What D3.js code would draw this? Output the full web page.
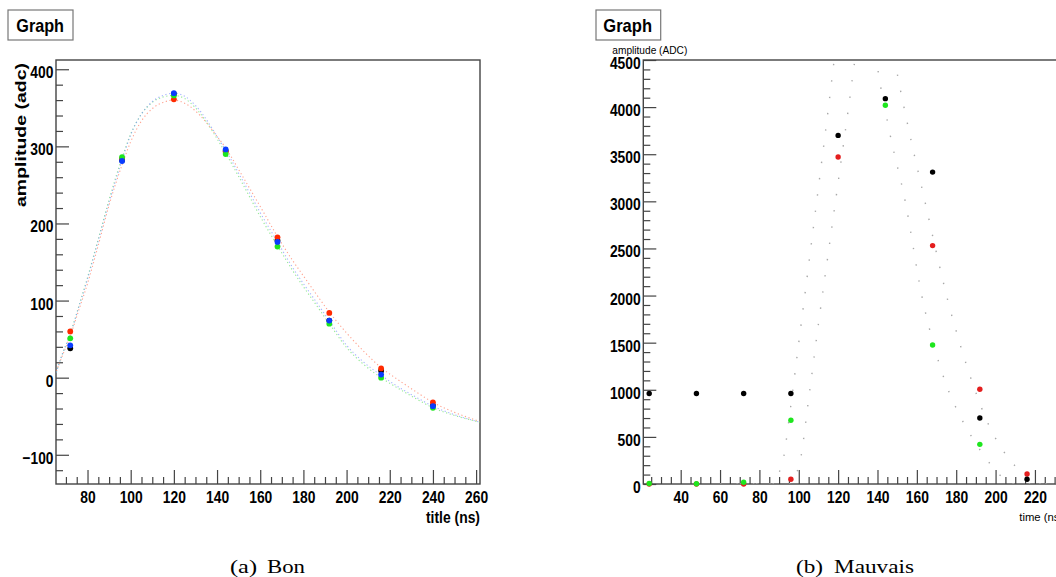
<!DOCTYPE html>
<html>
<head>
<meta charset="utf-8">
<script src="https://cdn.jsdelivr.net/npm/d3@7"></script>
<style>
  html, body { margin: 0; padding: 0; background: #fff; }
  svg { display: block; }
</style>
</head>
<body>
<svg id="chart" width="1056" height="577"></svg>
<script>
// ---------------- DATA ----------------
// Left panel (a) Bon
const leftTimes = [72, 96, 120, 144, 168, 192, 216, 240];
const leftBlack = [38, 282, 368, 294, 178, 74, 9, -36];
const leftRed   = [60, 284, 361, 293, 182, 84, 12, -32];
const leftGreen = [51, 286, 366, 290, 170, 70, 0, -39];
const leftBlue  = [42, 281, 369, 296, 176, 74, 4, -37];

const leftFitTimes = [65, 68, 72, 76, 80, 85, 90, 96, 100, 105, 110, 115, 120, 125, 130, 135, 140, 144, 150, 155, 160, 168, 175, 180, 185, 192, 200, 208, 216, 224, 232, 240, 250, 262];
const leftFitBlue  = [2, 28, 56, 92, 128, 178, 228, 282, 315, 342, 358, 366, 369, 365, 353, 335, 313, 295, 265, 240, 214, 176, 143, 122, 102, 74, 42, 20, 3, -12, -25, -37, -48, -58];
const leftFitGreen = [2, 28, 57, 93, 130, 180, 231, 285, 316, 342, 357, 364, 366, 362, 350, 332, 310, 291, 261, 235, 209, 171, 139, 118, 98, 70, 39, 17, 0, -14, -27, -39, -49, -58];
const leftFitRed   = [4, 26, 54, 88, 122, 172, 224, 276, 306, 333, 349, 357, 360, 356, 346, 331, 313, 298, 270, 246, 222, 183, 152, 132, 112, 85, 58, 34, 13, -3, -18, -32, -45, -57];

const leftXTicks = [80, 100, 120, 140, 160, 180, 200, 220, 240, 260];
const leftYTicks = [-100, 0, 100, 200, 300, 400];

// Right panel (b) Mauvais
const rightTimes = [24, 48, 72, 96, 120, 144, 168, 192, 216];
const rightBlack = [960, 960, 960, 960, 3700, 4090, 3310, 700, 50];
const rightRed   = [0, 0, 0, 50, 3470, null, 2530, 1005, 106];
const rightGreen = [5, 3, 18, 676, null, 4020, 1475, 421, null];

const rightFitGreenTimes = [60, 85, 88, 92, 95.5, 100, 105, 110, 115, 118, 122, 129, 136, 139.5, 146, 154, 163, 168.6, 175, 182, 190, 197, 204, 208, 230];
const rightFitGreen      = [0, 0, 60, 250, 760, 1500, 2320, 3150, 3980, 4500, 5100, 5500, 5100, 4500, 3750, 3010, 1950, 1475, 1050, 720, 430, 220, 60, 0, 0];
const rightFitRedTimes   = [70, 96, 98, 100.6, 105, 110, 115, 120, 125, 128.5, 132, 139, 145, 148.8, 156, 164, 170, 175.7, 182, 189.4, 196, 203, 210, 216, 221, 240];
const rightFitRed        = [0, 0, 80, 233, 900, 1700, 2450, 3200, 3950, 4500, 5000, 5400, 5000, 4500, 3750, 3010, 2450, 1950, 1480, 1005, 650, 380, 190, 60, 0, 0];

const rightXTicks = [40, 60, 80, 100, 120, 140, 160, 180, 200, 220];
const rightYTicks = [0, 500, 1000, 1500, 2000, 2500, 3000, 3500, 4000, 4500];

const captions = ["(a)", "Bon", "(b)", "Mauvais"];

// ---------------- DRAW ----------------
const svg = d3.select("#chart");
const FONT = "'Liberation Sans', Arial, Helvetica, sans-serif";
const SERIF = "'Liberation Serif', 'Times New Roman', serif";
const frameColor = "#444";

function graphBox(x, y, w, h, tx, tw) {
  svg.append("rect").attr("x", x).attr("y", y).attr("width", w).attr("height", h)
    .attr("fill", "#fff").attr("stroke", "#777").attr("stroke-width", 1.2);
  svg.append("text").attr("x", tx).attr("y", y + 22)
    .attr("font-family", FONT).attr("font-weight", "bold").attr("font-size", 18.5)
    .attr("textLength", tw).attr("lengthAdjust", "spacingAndGlyphs")
    .text("Graph");
}

// condensed bold tick labels (ROOT style)
function labelWidth(s) {
  let w = 0;
  for (const c of s) w += (c === "-") ? 4.4 : 7.7;
  return w;
}

function styleAxis(g) {
  g.select(".domain").remove();
  g.selectAll(".tick line").attr("stroke", frameColor).attr("stroke-width", 1.2);
  g.attr("font-family", FONT).attr("font-size", 17).attr("font-weight", "bold");
  g.selectAll("text").attr("fill", "#000").each(function () {
    const t = d3.select(this).text();
    if (t) d3.select(this).attr("textLength", labelWidth(t)).attr("lengthAdjust", "spacingAndGlyphs");
  });
}

function range(a, b, s) { const r = []; for (let v = a; v <= b + 1e-9; v += s) r.push(+v.toFixed(6)); return r; }

// ===== LEFT PANEL =====
(function () {
  const L = 56, R = 480, T = 60, B = 484;
  const x = d3.scaleLinear().domain([65.4, 261.8]).range([L, R]);
  const y = d3.scaleLinear().domain([-137.9, 412]).range([B, T]);

  graphBox(8, 10, 65, 30, 16.3, 47.7);

  const clipId = "clipLeft";
  svg.append("clipPath").attr("id", clipId).append("rect")
    .attr("x", L).attr("y", T).attr("width", R - L).attr("height", B - T);

  const xMinor = range(70, 260, 5).filter(v => !leftXTicks.includes(v));
  const yMinor = range(-120, 400, 20).filter(v => !leftYTicks.includes(v));
  svg.append("g").attr("transform", `translate(0,${B})`)
    .call(d3.axisBottom(x).tickValues(xMinor).tickFormat("").tickSizeInner(-7).tickSizeOuter(0))
    .call(styleAxis);
  svg.append("g").attr("transform", `translate(${L},0)`)
    .call(d3.axisLeft(y).tickValues(yMinor).tickFormat("").tickSizeInner(-7).tickSizeOuter(0))
    .call(styleAxis);
  svg.append("g").attr("transform", `translate(0,${B})`)
    .call(d3.axisBottom(x).tickValues(leftXTicks).tickFormat(d3.format("d")).tickSizeInner(-14).tickSizeOuter(0).tickPadding(7.2))
    .call(styleAxis);
  const gy = svg.append("g").attr("transform", `translate(${L},0)`)
    .call(d3.axisLeft(y).tickValues(leftYTicks).tickFormat(d3.format("d")).tickSizeInner(-13).tickSizeOuter(0).tickPadding(2.6))
    .call(styleAxis);
  gy.selectAll("text").attr("dy", "0.5em");

  svg.append("rect").attr("x", L).attr("y", T).attr("width", R - L).attr("height", B - T)
    .attr("fill", "none").attr("stroke", frameColor).attr("stroke-width", 1.4);

  svg.append("text").attr("transform", `translate(26,207) rotate(-90)`)
    .attr("font-family", FONT).attr("font-weight", "bold").attr("font-size", 14.5)
    .attr("textLength", 144).attr("lengthAdjust", "spacingAndGlyphs")
    .text("amplitude (adc)");
  svg.append("text").attr("x", 480).attr("y", 523).attr("text-anchor", "end")
    .attr("font-family", FONT).attr("font-weight", "bold").attr("font-size", 17)
    .attr("textLength", 54).attr("lengthAdjust", "spacingAndGlyphs")
    .text("title (ns)");

  const line = d3.line().x(d => x(d[0])).y(d => y(d[1])).curve(d3.curveMonotoneX);
  const fits = [
    [leftFitRed, "#ff7a60"],
    [leftFitGreen, "#66e066"],
    [leftFitBlue, "#7d92ff"]
  ];
  const gc = svg.append("g").attr("clip-path", `url(#${clipId})`);
  fits.forEach(([vals, col]) => {
    gc.append("path").datum(leftFitTimes.map((t, i) => [t, vals[i]]))
      .attr("d", line).attr("fill", "none").attr("stroke", col)
      .attr("stroke-width", 1.1).attr("stroke-dasharray", "1.2 2.6").attr("opacity", 0.7);
  });

  const series = [
    [leftBlack, "#000000"],
    [leftRed, "#ff2a00"],
    [leftGreen, "#1ee61e"],
    [leftBlue, "#0a3cff"]
  ];
  series.forEach(([vals, col]) => {
    svg.append("g").selectAll("circle").data(leftTimes.map((t, i) => [t, vals[i]]))
      .join("circle").attr("cx", d => x(d[0])).attr("cy", d => y(d[1]))
      .attr("r", 2.9).attr("fill", col);
  });

  svg.append("text").attr("x", 230).attr("y", 572.7)
    .attr("font-family", SERIF).attr("font-size", 19)
    .attr("textLength", 27).attr("lengthAdjust", "spacingAndGlyphs").text(captions[0]);
  svg.append("text").attr("x", 267).attr("y", 572.7)
    .attr("font-family", SERIF).attr("font-size", 19)
    .attr("textLength", 38).attr("lengthAdjust", "spacingAndGlyphs").text(captions[1]);
})();

// ===== RIGHT PANEL =====
(function () {
  const L = 643.3, T = 60, B = 484, R = 1100;
  const x = d3.scaleLinear().domain([21, 21 + (R - L) / 1.968]).range([L, R]);
  const y = d3.scaleLinear().domain([0, 4500]).range([B, T]);

  graphBox(596, 10, 64.7, 30, 603.3, 48.7);

  const clipId = "clipRight";
  svg.append("clipPath").attr("id", clipId).append("rect")
    .attr("x", L).attr("y", T).attr("width", R - L).attr("height", B - T);

  const xMinor = range(25, 250, 5).filter(v => !rightXTicks.includes(v));
  const yMinor = range(0, 4500, 100).filter(v => !rightYTicks.includes(v));
  svg.append("g").attr("transform", `translate(0,${B})`)
    .call(d3.axisBottom(x).tickValues(xMinor).tickFormat("").tickSizeInner(-7).tickSizeOuter(0))
    .call(styleAxis);
  svg.append("g").attr("transform", `translate(${L},0)`)
    .call(d3.axisLeft(y).tickValues(yMinor).tickFormat("").tickSizeInner(-7).tickSizeOuter(0))
    .call(styleAxis);
  svg.append("g").attr("transform", `translate(0,${B})`)
    .call(d3.axisBottom(x).tickValues(rightXTicks).tickFormat(d3.format("d")).tickSizeInner(-14).tickSizeOuter(0).tickPadding(7.4))
    .call(styleAxis);
  const gy = svg.append("g").attr("transform", `translate(${L},0)`)
    .call(d3.axisLeft(y).tickValues(rightYTicks).tickFormat(d3.format("d")).tickSizeInner(-13).tickSizeOuter(0).tickPadding(2.6))
    .call(styleAxis);
  gy.selectAll("text").attr("dy", "0.5em");

  svg.append("rect").attr("x", L).attr("y", T).attr("width", R - L).attr("height", B - T)
    .attr("fill", "none").attr("stroke", frameColor).attr("stroke-width", 1.4);

  svg.append("text").attr("x", 612.3).attr("y", 53.5)
    .attr("font-family", FONT).attr("font-size", 11.5)
    .attr("textLength", 75).attr("lengthAdjust", "spacingAndGlyphs")
    .text("amplitude (ADC)");
  svg.append("text").attr("x", 1019.3).attr("y", 520.5)
    .attr("font-family", FONT).attr("font-size", 11.5)
    .attr("textLength", 44).attr("lengthAdjust", "spacingAndGlyphs")
    .text("time (ns)");

  const line = d3.line().x(d => x(d[0])).y(d => y(d[1])).curve(d3.curveMonotoneX);
  const gc = svg.append("g").attr("clip-path", `url(#${clipId})`);
  [[rightFitGreenTimes, rightFitGreen], [rightFitRedTimes, rightFitRed]].forEach(([ts, vs]) => {
    gc.append("path").datum(ts.map((t, i) => [t, vs[i]]))
      .attr("d", line).attr("fill", "none").attr("stroke", "#a8a8a8")
      .attr("stroke-width", 1.4).attr("stroke-dasharray", "1.4 15");
  });

  const series = [
    [rightRed, "#e41e1e"],
    [rightGreen, "#1ee61e"],
    [rightBlack, "#000000"]
  ];
  series.forEach(([vals, col]) => {
    svg.append("g").selectAll("circle")
      .data(rightTimes.map((t, i) => [t, vals[i]]).filter(d => d[1] !== null))
      .join("circle").attr("cx", d => x(d[0])).attr("cy", d => y(d[1]))
      .attr("r", 2.7).attr("fill", col);
  });

  svg.append("text").attr("x", 796).attr("y", 572.7)
    .attr("font-family", SERIF).attr("font-size", 19)
    .attr("textLength", 27).attr("lengthAdjust", "spacingAndGlyphs").text(captions[2]);
  svg.append("text").attr("x", 834).attr("y", 572.7)
    .attr("font-family", SERIF).attr("font-size", 19)
    .attr("textLength", 80).attr("lengthAdjust", "spacingAndGlyphs").text(captions[3]);
})();
</script>
</body>
</html>
